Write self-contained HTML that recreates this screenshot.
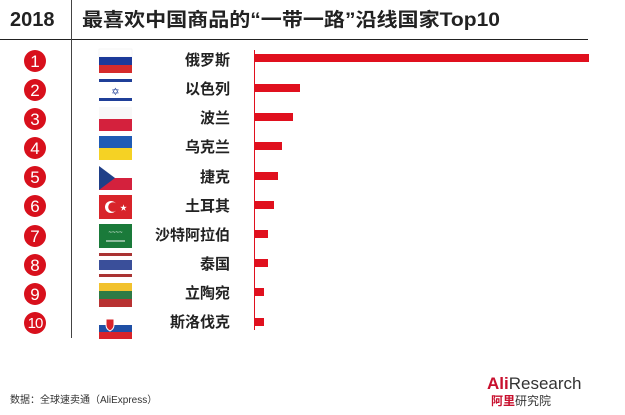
<!DOCTYPE html>
<html><head><meta charset="utf-8"><style>
body{margin:0;background:#fff;width:625px;height:415px;overflow:hidden}
svg{display:block;font-family:"Liberation Sans","Noto Sans CJK SC",sans-serif}
</style></head><body>
<svg width="625" height="415" viewBox="0 0 625 415" xmlns="http://www.w3.org/2000/svg">
<text x="10" y="26" font-size="20" font-weight="bold" fill="#222">2018</text>
<text x="82" y="26" font-size="19" font-weight="bold" fill="#222" textLength="418" lengthAdjust="spacingAndGlyphs">最喜欢中国商品的“一带一路”沿线国家Top10</text>
<line x1="0" y1="39.5" x2="588" y2="39.5" stroke="#222" stroke-width="1"/>
<line x1="71.5" y1="0" x2="71.5" y2="338" stroke="#444" stroke-width="1"/>
<line x1="254.5" y1="50" x2="254.5" y2="330" stroke="#e0101e" stroke-width="1"/>
<g font-weight="bold" font-size="15" fill="#222" text-anchor="end">
<text x="230" y="65">俄罗斯</text>
<text x="230" y="94">以色列</text>
<text x="230" y="123">波兰</text>
<text x="230" y="152">乌克兰</text>
<text x="230" y="182">捷克</text>
<text x="230" y="211">土耳其</text>
<text x="230" y="240">沙特阿拉伯</text>
<text x="230" y="269">泰国</text>
<text x="230" y="298">立陶宛</text>
<text x="230" y="327">斯洛伐克</text>
</g>
<g fill="#e0101e">
<rect x="254" y="54" width="335" height="8"/>
<rect x="254" y="84" width="46" height="8"/>
<rect x="254" y="113" width="39" height="8"/>
<rect x="254" y="142" width="28" height="8"/>
<rect x="254" y="172" width="24" height="8"/>
<rect x="254" y="201" width="20" height="8"/>
<rect x="254" y="230" width="14" height="8"/>
<rect x="254" y="259" width="14" height="8"/>
<rect x="254" y="288" width="10" height="8"/>
<rect x="254" y="318" width="10" height="8"/>
</g>
<g fill="#d8101c">
<circle cx="35" cy="61" r="11"/><circle cx="35" cy="90" r="11"/><circle cx="35" cy="119" r="11"/><circle cx="35" cy="148" r="11"/><circle cx="35" cy="177" r="11"/><circle cx="35" cy="206" r="11"/><circle cx="35" cy="236" r="11"/><circle cx="35" cy="265" r="11"/><circle cx="35" cy="294" r="11"/><circle cx="35" cy="323" r="11"/>
</g>
<g fill="#fff" font-size="17" text-anchor="middle">
<text x="35" y="67">1</text><text x="35" y="96">2</text><text x="35" y="125">3</text><text x="35" y="154">4</text><text x="35" y="183">5</text><text x="35" y="212">6</text><text x="35" y="242">7</text><text x="35" y="271">8</text><text x="35" y="300">9</text><text x="35" y="328" font-size="15" letter-spacing="-1">10</text>
</g>
<rect x="99" y="49" width="33" height="8" fill="#fff" stroke="#eee" stroke-width="0.5"/><rect x="99" y="57" width="33" height="8" fill="#1c3a9a"/><rect x="99" y="65" width="33" height="8" fill="#d52b2b"/>
<rect x="99" y="78" width="33" height="24" fill="#fff"/><rect x="99" y="79" width="33" height="3" fill="#1f3f98"/><rect x="99" y="98" width="33" height="3" fill="#1f3f98"/><text x="115.5" y="95" font-size="10" fill="#1f3f98" text-anchor="middle">✡</text>
<rect x="99" y="107" width="33" height="12" fill="#f8f8f8"/><rect x="99" y="119" width="33" height="12" fill="#d4213d"/>
<rect x="99" y="136" width="33" height="12" fill="#1f5bb5"/><rect x="99" y="148" width="33" height="12" fill="#f5d224"/>
<rect x="99" y="166" width="33" height="12" fill="#fff"/><rect x="99" y="178" width="33" height="12" fill="#d4213d"/><polygon points="99,166 115,178 99,190" fill="#1f3f88"/>
<rect x="99" y="195" width="33" height="24" fill="#d8242a"/><circle cx="111" cy="207" r="6" fill="#fff"/><circle cx="113" cy="207" r="4.8" fill="#d8242a"/><text x="120" y="210" font-size="7" fill="#fff">★</text>
<rect x="99" y="224" width="33" height="24" fill="#1a7a3a"/><text x="115.5" y="234" font-size="6" fill="#fff" text-anchor="middle">~~~~</text><line x1="106" y1="241" x2="125" y2="241" stroke="#fff" stroke-width="1"/>
<rect x="99" y="253" width="33" height="24" fill="#fff"/><rect x="99" y="253" width="33" height="3" fill="#a33"/><rect x="99" y="274" width="33" height="3" fill="#a33"/><rect x="99" y="260" width="33" height="10" fill="#3a4f9a"/>
<rect x="99" y="283" width="33" height="8" fill="#f2c22e"/><rect x="99" y="291" width="33" height="8" fill="#2e7a45"/><rect x="99" y="299" width="33" height="8" fill="#b83232"/>
<rect x="99" y="318" width="33" height="7" fill="#fff"/><rect x="99" y="325" width="33" height="7" fill="#1f4fa5"/><rect x="99" y="332" width="33" height="7" fill="#d8242a"/><path d="M106 319h8v6q0 4-4 6q-4-2-4-6z" fill="#d8242a" stroke="#fff" stroke-width="1"/>
<text x="10" y="403" font-size="10" fill="#333">数据：全球速卖通（AliExpress）</text>
<text x="487" y="389" font-size="17" fill="#333"><tspan font-weight="bold" fill="#c8102e">Ali</tspan>Research</text>
<text x="491" y="405" font-size="12" fill="#333"><tspan font-weight="bold" fill="#c8102e">阿里</tspan>研究院</text>
</svg>
</body></html>
